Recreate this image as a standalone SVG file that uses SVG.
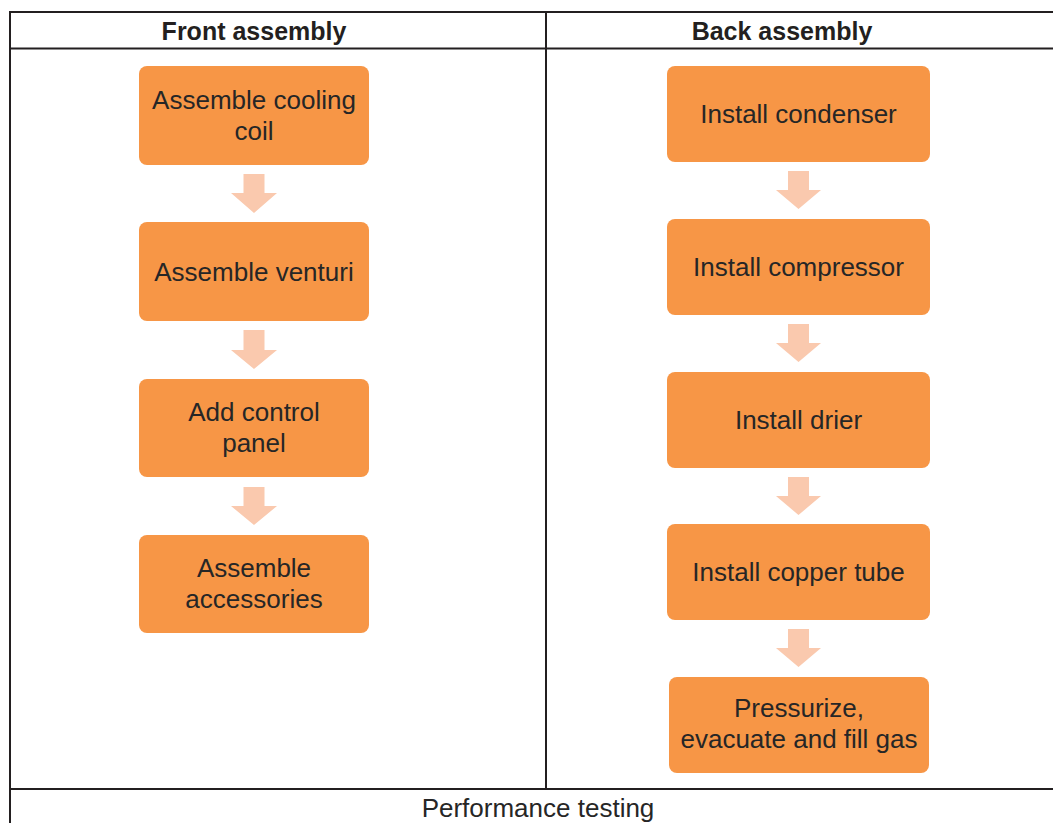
<svg xmlns="http://www.w3.org/2000/svg" width="1053" height="823" viewBox="0 0 1053 823">
<style>
.tbl{fill:none;stroke:#231f20;stroke-width:2}
.box{fill:#F79646}
.arr{fill:#FAC9AE}
.t{font-family:"Liberation Sans",Arial,sans-serif;font-size:26px;fill:#262626;text-anchor:middle}
.h{font-family:"Liberation Sans",Arial,sans-serif;font-size:25px;font-weight:bold;fill:#231f20;text-anchor:middle}
</style>
<rect width="1053" height="823" fill="#ffffff"/>
<g id="table">
<rect class="tbl" x="10" y="12" width="1060" height="830"/>
<line class="tbl" x1="10" y1="48.5" x2="1060" y2="48.5"/>
<line class="tbl" x1="10" y1="789" x2="1060" y2="789"/>
<line class="tbl" x1="546" y1="12" x2="546" y2="789"/>
<text class="h" x="254" y="40">Front assembly</text>
<text class="h" x="782" y="40">Back assembly</text>
<text class="t" x="538" y="817">Performance testing</text>
</g>
<g id="connectors">
<polygon class="arr" points="243.5,174 264.5,174 264.5,193 277,193 254,213 231,193 243.5,193"/>
<polygon class="arr" points="243.5,330 264.5,330 264.5,350 277,350 254,369 231,350 243.5,350"/>
<polygon class="arr" points="243.5,487 264.5,487 264.5,506 277,506 254,525 231,506 243.5,506"/>
<polygon class="arr" points="788,171 809,171 809,190 821,190 798.5,209 776,190 788,190"/>
<polygon class="arr" points="788,324 809,324 809,343 821,343 798.5,362 776,343 788,343"/>
<polygon class="arr" points="788,477 809,477 809,496 821,496 798.5,515 776,496 788,496"/>
<polygon class="arr" points="788,629 809,629 809,648 821,648 798.5,667 776,648 788,648"/>
</g>
<g id="n1"><rect class="box" x="139" y="66" width="230" height="99" rx="8"/><text class="t" x="254" y="108.5">Assemble cooling</text><text class="t" x="254" y="139.5">coil</text></g>
<g id="n2"><rect class="box" x="139" y="222" width="230" height="99" rx="8"/><text class="t" x="254" y="280.5">Assemble venturi</text></g>
<g id="n3"><rect class="box" x="139" y="379" width="230" height="98" rx="8"/><text class="t" x="254" y="421">Add control</text><text class="t" x="254" y="452">panel</text></g>
<g id="n4"><rect class="box" x="139" y="535" width="230" height="98" rx="8"/><text class="t" x="254" y="577">Assemble</text><text class="t" x="254" y="608">accessories</text></g>
<g id="n5"><rect class="box" x="667" y="66" width="263" height="96" rx="8"/><text class="t" x="798.5" y="123">Install condenser</text></g>
<g id="n6"><rect class="box" x="667" y="219" width="263" height="96" rx="8"/><text class="t" x="798.5" y="276">Install compressor</text></g>
<g id="n7"><rect class="box" x="667" y="372" width="263" height="96" rx="8"/><text class="t" x="798.5" y="429">Install drier</text></g>
<g id="n8"><rect class="box" x="667" y="524" width="263" height="96" rx="8"/><text class="t" x="798.5" y="581">Install copper tube</text></g>
<g id="n9"><rect class="box" x="669" y="677" width="260" height="96" rx="8"/><text class="t" x="799" y="717">Pressurize,</text><text class="t" x="799" y="748">evacuate and fill gas</text></g>
</svg>
